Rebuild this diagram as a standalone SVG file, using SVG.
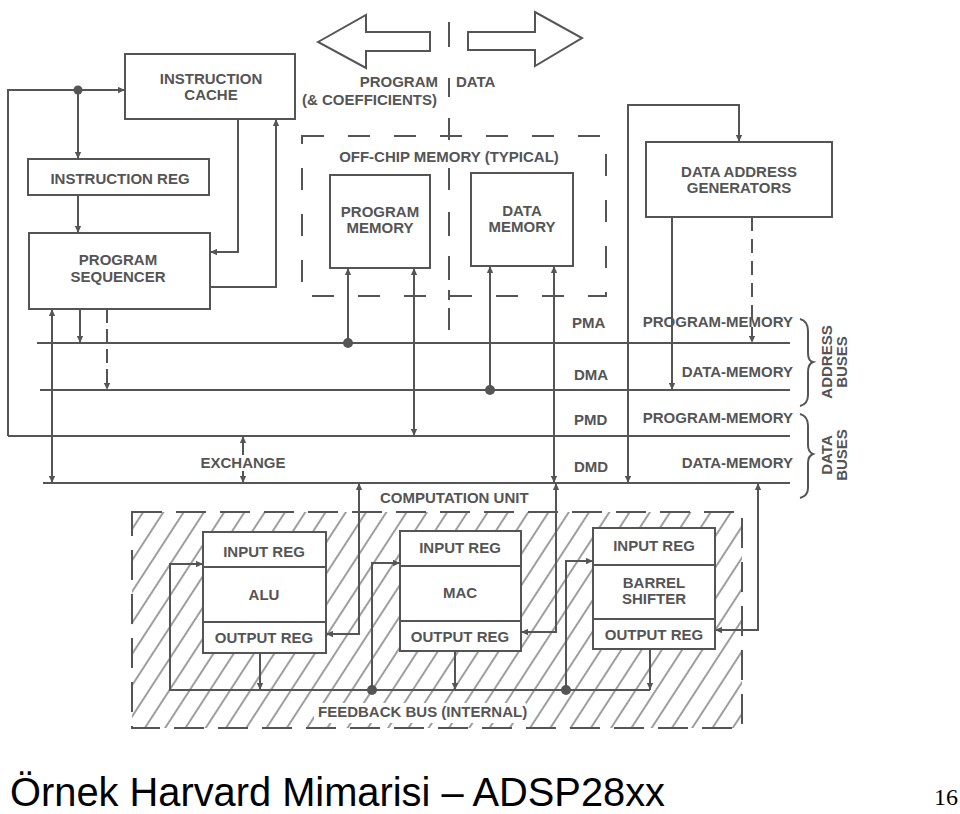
<svg xmlns="http://www.w3.org/2000/svg" width="960" height="814" viewBox="0 0 960 814">
<style>
.t{font-family:"Liberation Sans",Arial,sans-serif;font-size:15px;font-weight:bold;fill:#555}
.m{text-anchor:middle}
.e{text-anchor:end}
.b{fill:#fff;stroke:#555;stroke-width:2}
.l{fill:none;stroke:#555;stroke-width:2}
.d{fill:none;stroke:#555;stroke-width:2;stroke-dasharray:22 24}
.dot{fill:#555}
.a{marker-end:url(#ah)}
.aa{marker-start:url(#ah);marker-end:url(#ah)}
</style>
<defs>
<marker id="ah" viewBox="0 0 10 10" refX="10" refY="5" markerWidth="8" markerHeight="7" markerUnits="userSpaceOnUse" orient="auto-start-reverse">
<path d="M0,0.5 L10,5 L0,9.5 z" fill="#555"/>
</marker>
<pattern id="hatch" width="17" height="17" patternUnits="userSpaceOnUse" patternTransform="rotate(33)">
<line x1="8" y1="0" x2="8" y2="17" stroke="#6a6a6a" stroke-width="1.3"/>
</pattern>
</defs>
<rect width="960" height="814" fill="#fff"/>

<g id="transfer-arrows">
<polygon class="b" points="318,42 366,15 366,32 430,32 430,51 366,51 366,68"/>
<polygon class="b" points="468,32 535,32 535,12 582,38 535,66 535,50 468,50"/>
<path class="l" d="M449 22V47 M449 78V97 M449 118V140 M449 168V190 M449 212V236 M449 256V280 M449 290V300 M449 308V330"/>
<text class="t e" x="438" y="87">PROGRAM</text>
<text class="t e" x="437" y="105">(&amp; COEFFICIENTS)</text>
<text class="t" x="456" y="87">DATA</text>
</g>

<g id="offchip-memory">
<rect class="d" x="302" y="136" width="304" height="160"/>
<text class="t m" x="449" y="162">OFF-CHIP MEMORY (TYPICAL)</text>
</g>
<g id="program-memory">
<rect class="b" x="330" y="175" width="100" height="93"/>
<text class="t m" x="380" y="217">PROGRAM</text>
<text class="t m" x="380" y="233">MEMORY</text>
</g>
<g id="data-memory">
<rect class="b" x="471" y="173" width="102" height="93"/>
<text class="t m" x="522" y="216">DATA</text>
<text class="t m" x="522" y="232">MEMORY</text>
</g>

<g id="instruction-cache">
<rect class="b" x="125" y="54" width="170" height="65"/>
<text class="t m" x="211" y="84">INSTRUCTION</text>
<text class="t m" x="211" y="100">CACHE</text>
</g>
<g id="instruction-reg">
<rect class="b" x="28" y="159" width="181" height="36"/>
<text class="t m" x="120" y="184">INSTRUCTION REG</text>
</g>
<g id="program-sequencer">
<rect class="b" x="29" y="233" width="181" height="76"/>
<text class="t m" x="118" y="265">PROGRAM</text>
<text class="t m" x="118" y="282">SEQUENCER</text>
</g>
<g id="data-address-generators">
<rect class="b" x="646" y="142" width="186" height="75"/>
<text class="t m" x="739" y="177">DATA ADDRESS</text>
<text class="t m" x="739" y="193">GENERATORS</text>
</g>

<g id="buses">
<line class="l" x1="37" y1="343" x2="790" y2="343"/>
<line class="l" x1="40" y1="390" x2="790" y2="390"/>
<line class="l" x1="8" y1="436" x2="790" y2="436"/>
<line class="l" x1="43" y1="483" x2="790" y2="483"/>
<text class="t" x="572" y="328">PMA</text>
<text class="t" x="574" y="380">DMA</text>
<text class="t" x="574" y="425">PMD</text>
<text class="t" x="574" y="472">DMD</text>
<text class="t e" x="793" y="327">PROGRAM-MEMORY</text>
<text class="t e" x="793" y="377">DATA-MEMORY</text>
<text class="t e" x="793" y="423">PROGRAM-MEMORY</text>
<text class="t e" x="793" y="468">DATA-MEMORY</text>
<path class="l" d="M800 319 Q808 321 808 331 L808 353 Q808 361 813 362 Q808 364 808 372 L808 395 Q808 404 800 406"/>
<path class="l" d="M800 414 Q808 416 808 426 L808 445 Q808 452 813 454 Q808 456 808 463 L808 488 Q808 496 800 498"/>
<text class="t m" transform="translate(832 362) rotate(-90)">ADDRESS</text>
<text class="t m" transform="translate(847 362) rotate(-90)">BUSES</text>
<text class="t m" transform="translate(832 455) rotate(-90)">DATA</text>
<text class="t m" transform="translate(847 455) rotate(-90)">BUSES</text>
<text class="t m" x="243" y="468">EXCHANGE</text>
<text class="t" x="380" y="503">COMPUTATION UNIT</text>
</g>

<g id="computation-unit">
<rect x="132" y="512" width="610" height="216" fill="url(#hatch)" stroke="#555" stroke-width="2" stroke-dasharray="30 14"/>
<rect x="314" y="703" width="212" height="20" fill="#fff"/>
<text class="t" x="318" y="717">FEEDBACK BUS (INTERNAL)</text>
</g>
<g id="alu">
<rect class="b" x="203" y="532" width="123" height="121"/>
<line class="l" x1="203" y1="567" x2="326" y2="567"/>
<line class="l" x1="203" y1="622" x2="326" y2="622"/>
<text class="t m" x="264" y="557">INPUT REG</text>
<text class="t m" x="264" y="600">ALU</text>
<text class="t m" x="264" y="643">OUTPUT REG</text>
</g>
<g id="mac">
<rect class="b" x="400" y="531" width="121" height="120"/>
<line class="l" x1="400" y1="566" x2="521" y2="566"/>
<line class="l" x1="400" y1="621" x2="521" y2="621"/>
<text class="t m" x="460" y="553">INPUT REG</text>
<text class="t m" x="460" y="598">MAC</text>
<text class="t m" x="460" y="642">OUTPUT REG</text>
</g>
<g id="barrel-shifter">
<rect class="b" x="593" y="528" width="122" height="121"/>
<line class="l" x1="593" y1="565" x2="715" y2="565"/>
<line class="l" x1="593" y1="619" x2="715" y2="619"/>
<text class="t m" x="654" y="551">INPUT REG</text>
<text class="t m" x="654" y="588">BARREL</text>
<text class="t m" x="654" y="604">SHIFTER</text>
<text class="t m" x="654" y="640">OUTPUT REG</text>
</g>

<g id="connectors">
<path class="l a" d="M8 436 V90 H125"/>
<circle class="dot" cx="78" cy="90" r="4.5"/>
<path class="l a" d="M78 90 V159"/>
<path class="l a" d="M78 195 V233"/>
<path class="l a" d="M238 119 V252 H210"/>
<path class="l a" d="M210 287 H276 V119"/>
<path class="l aa" d="M52 309 V483"/>
<path class="l a" d="M80 309 V343"/>
<path class="l a" style="stroke-dasharray:14 6" d="M107 309 V390"/>
<path class="l" style="marker-start:url(#ah)" d="M348 268 V343"/>
<circle class="dot" cx="348" cy="343" r="5"/>
<path class="l aa" d="M414 268 V436"/>
<path class="l" style="marker-start:url(#ah)" d="M490 266 V390"/>
<circle class="dot" cx="490" cy="390" r="5"/>
<path class="l aa" d="M554 266 V483"/>
<path class="l aa" d="M628 483 V105 H739 V142"/>
<path class="l a" d="M672 217 V390"/>
<path class="l a" style="stroke-dasharray:14 8" d="M752 217 V343"/>
<path class="l a" d="M243 455 V436"/>
<path class="l a" d="M243 471 V483"/>
<path class="l aa" d="M359 483 V634 H326"/>
<path class="l aa" d="M556 483 V632 H521"/>
<path class="l aa" d="M758 483 V630 H715"/>
<path class="l a" d="M650 690 H170 V564 H203"/>
<path class="l a" d="M260 653 V690"/>
<path class="l a" d="M455 651 V690"/>
<path class="l a" d="M650 649 V690"/>
<circle class="dot" cx="372" cy="690" r="5"/>
<path class="l a" d="M372 690 V563 H400"/>
<circle class="dot" cx="566" cy="690" r="5"/>
<path class="l a" d="M566 690 V561 H593"/>
</g>

<g id="title">
<text x="10" y="806" font-family="Liberation Sans,Arial,sans-serif" font-size="41" fill="#000" textLength="655" lengthAdjust="spacingAndGlyphs">Örnek Harvard Mimarisi – ADSP28xx</text>
<text x="934" y="805" font-family="Liberation Serif,Times New Roman,serif" font-size="24" fill="#000">16</text>
</g>
</svg>
